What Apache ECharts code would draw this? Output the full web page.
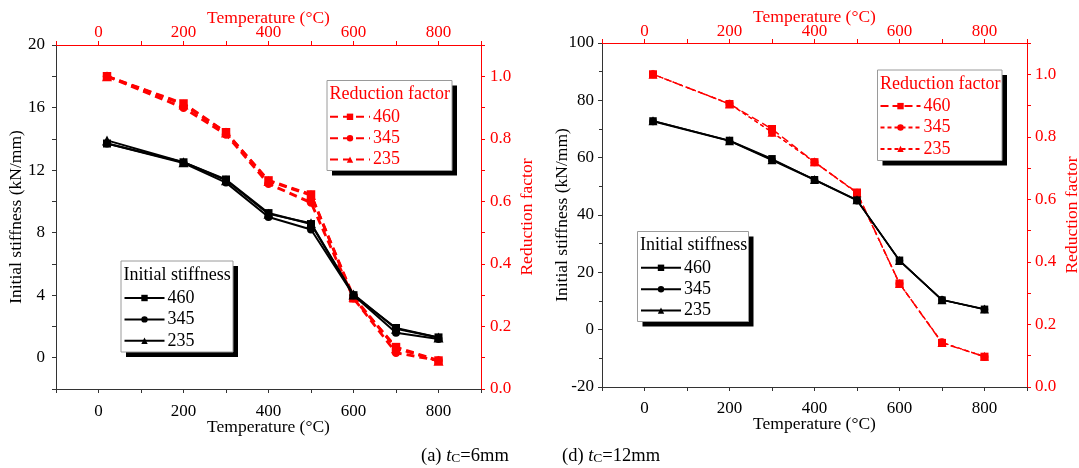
<!DOCTYPE html>
<html>
<head>
<meta charset="utf-8">
<script src="https://cdn.jsdelivr.net/npm/echarts@6/dist/echarts.min.js"></script>
<style>
html,body{margin:0;padding:0;background:#fff;}
#chart{width:1079px;height:468px;}
</style>
</head>
<body>
<div id="chart"></div>
<script>
// ---------- data ----------
const temps = [20, 200, 300, 400, 500, 600, 700, 800];
const grades = ['460', '345', '235'];

// (a) tC = 6 mm
const stiff6_460 = [13.7, 12.5, 11.4, 9.25, 8.55, 4.0, 1.9, 1.3];
const stiff6_345 = [13.7, 12.45, 11.2, 9.0, 8.2, 4.0, 1.6, 1.2];
const stiff6_235 = [13.9, 12.5, 11.35, 9.2, 8.6, 4.05, 1.85, 1.3];
const red6_460 = [1.0, 0.913, 0.821, 0.667, 0.622, 0.29, 0.134, 0.091];
const red6_345 = [1.0, 0.899, 0.814, 0.656, 0.596, 0.29, 0.116, 0.091];
const red6_235 = [1.0, 0.91, 0.82, 0.665, 0.62, 0.295, 0.13, 0.09];

// (d) tC = 12 mm
const stiff12_460 = [72.8, 66.0, 59.6, 52.3, 45.2, 24.2, 10.3, 7.1];
const stiff12_345 = [72.6, 65.8, 59.1, 52.2, 45.0, 24.0, 10.4, 7.0];
const stiff12_235 = [72.9, 65.9, 59.3, 52.4, 45.3, 24.1, 10.4, 7.2];
const red12_460 = [1.0, 0.905, 0.825, 0.719, 0.622, 0.331, 0.141, 0.097];
const red12_345 = [1.0, 0.906, 0.814, 0.719, 0.62, 0.33, 0.143, 0.096];
const red12_235 = [1.0, 0.905, 0.815, 0.72, 0.621, 0.331, 0.142, 0.098];

// tick labels
const tempTicks = [0, 200, 400, 600, 800];
const stiff6Ticks = [0, 4, 8, 12, 16, 20];
const stiff12Ticks = [-20, 0, 20, 40, 60, 80, 100];
const redTicks = ['0.0', '0.2', '0.4', '0.6', '0.8', '1.0'];

// ---------- styling ----------
const FONT = '"Liberation Serif", "Times New Roman", serif';
const RED = '#ff0000';
const BLK = '#000000';
const AX = '#333333';
const TICK_FS = 17, TITLE_FS = 17.5, LEG_FS = 18;

const chart = echarts.init(document.getElementById('chart'), null, {renderer: 'canvas'});

function tempFmt(v) { return tempTicks.indexOf(Math.round(v)) >= 0 ? String(Math.round(v)) : ''; }
function redFmt(v) { const s = v.toFixed(1); return redTicks.indexOf(s) >= 0 && Math.abs(v - parseFloat(s)) < 1e-6 && Math.round(v * 10) % 2 === 0 ? s : ''; }

function xAxes(gi, o) {
  return [
    { // bottom
      gridIndex: gi, type: 'value', position: 'bottom', min: -100, max: 900, interval: 100,
      name: 'Temperature (°C)', nameLocation: 'middle', nameGap: o.bGap, nameMoveOverlap: false,
      nameTextStyle: {fontFamily: FONT, fontSize: TITLE_FS, color: BLK},
      axisLine: {show: true, onZero: false, lineStyle: {color: AX, width: 1}},
      axisTick: {show: true, length: 4, lineStyle: {color: AX}},
      axisLabel: {margin: o.bMargin, fontFamily: FONT, fontSize: TICK_FS, color: BLK, formatter: tempFmt},
      splitLine: {show: false}
    },
    { // top
      gridIndex: gi, type: 'value', position: 'top', min: -100, max: 900, interval: 100,
      name: 'Temperature (°C)', nameLocation: 'middle', nameGap: o.tGap, nameMoveOverlap: false,
      nameTextStyle: {fontFamily: FONT, fontSize: TITLE_FS, color: RED},
      axisLine: {show: true, onZero: false, lineStyle: {color: RED, width: 1}},
      axisTick: {show: true, length: 4, lineStyle: {color: RED}},
      axisLabel: {margin: o.tMargin, fontFamily: FONT, fontSize: TICK_FS, color: RED, formatter: tempFmt},
      splitLine: {show: false}
    }
  ];
}

function yAxes(gi, left, o) {
  return [
    Object.assign({
      gridIndex: gi, type: 'value', position: 'left',
      name: 'Initial stiffness (kN/mm)', nameLocation: 'middle', nameGap: o.lGap, nameMoveOverlap: false,
      nameTextStyle: {fontFamily: FONT, fontSize: TITLE_FS, color: BLK},
      axisLine: {show: true, onZero: false, lineStyle: {color: AX, width: 1}},
      axisTick: {show: true, length: 4, lineStyle: {color: AX}},
      splitLine: {show: false}
    }, left),
    {
      gridIndex: gi, type: 'value', position: 'right', min: 0, max: 1.1, interval: 0.1,
      name: 'Reduction factor', nameLocation: 'middle', nameGap: o.rGap, nameMoveOverlap: false,
      nameTextStyle: {fontFamily: FONT, fontSize: TITLE_FS, color: RED},
      axisLine: {show: true, onZero: false, lineStyle: {color: RED, width: 1}},
      axisTick: {show: true, length: 4, lineStyle: {color: RED}},
      axisLabel: {margin: o.rMargin, fontFamily: FONT, fontSize: TICK_FS, color: RED, formatter: redFmt},
      splitLine: {show: false}
    }
  ];
}

const symbols = ['rect', 'circle', 'triangle'];
function pts(vals) { return temps.map((t, i) => [t, vals[i]]); }
function line(name, vals, xi, yi, color, sym, type, width, size) {
  return {
    name: name, type: 'line', xAxisIndex: xi, yAxisIndex: yi, data: pts(vals),
    symbol: sym, symbolSize: size, showSymbol: true,
    lineStyle: {color: color, width: width, type: type},
    itemStyle: {color: color},
    emphasis: {disabled: true}, animation: false, z: color === RED ? 3 : 4
  };
}

const series = [];
const k6 = [stiff6_460, stiff6_345, stiff6_235];
const r6 = [red6_460, red6_345, red6_235];
const k12 = [stiff12_460, stiff12_345, stiff12_235];
const r12 = [red12_460, red12_345, red12_235];
grades.forEach((g, i) => {
  series.push(line('a-r-' + g, r6[i], 0, 1, RED, symbols[i], [8, 5], 2.8, i === 2 ? 10 : 8.5));
});
grades.forEach((g, i) => {
  series.push(line('a-k-' + g, k6[i], 0, 0, BLK, symbols[i], 'solid', 2, i === 2 ? 10 : 8));
});
const redTypes12 = [[8, 4], [4, 3], [4, 3]];
const redW12 = [1.5, 1.2, 1.2];
grades.forEach((g, i) => {
  series.push(line('d-r-' + g, r12[i], 2, 3, RED, symbols[i], redTypes12[i], redW12[i], i === 2 ? 9 : 8));
});
grades.forEach((g, i) => {
  series.push(line('d-k-' + g, k12[i], 2, 2, BLK, symbols[i], 'solid', 1.5, i === 2 ? 9 : 7.5));
});

function legend(prefix, left, top, color) {
  return {
    data: grades.map(g => prefix + g), orient: 'vertical', left: left, top: top,
    padding: 0, itemWidth: 40, itemHeight: 8, itemGap: 3.4, selectedMode: false, z: 10,
    formatter: n => n.split('-')[2],
    textStyle: {fontFamily: FONT, fontSize: LEG_FS, color: color, padding: [0, 0, 0, -2]}
  };
}

function box(x, y, w, h, title, color) {
  return [
    {type: 'rect', z: 1, shape: {x: x + 5, y: y + 5, width: w, height: h}, style: {fill: '#000'}},
    {type: 'rect', z: 1, shape: {x: x, y: y, width: w, height: h}, style: {fill: '#fff', stroke: '#9a9a9a', lineWidth: 1}},
    {type: 'text', z: 2, x: x + 2.5, y: y + 14, style: {text: title, fontFamily: FONT, fontSize: LEG_FS, fill: color, verticalAlign: 'middle', align: 'left'}}
  ];
}

function caption(x, label, val) {
  return {
    type: 'text', x: x, y: 455, z: 2,
    style: {
      text: '{n|' + label + ' }{i|t}{s|C}{n|=' + val + '}',
      verticalAlign: 'middle', align: 'left',
      rich: {
        n: {fontFamily: FONT, fontSize: 18.5, fill: BLK, color: BLK, lineHeight: 21, verticalAlign: 'bottom'},
        i: {fontFamily: FONT, fontSize: 18.5, fontStyle: 'italic', fill: BLK, color: BLK, lineHeight: 21, verticalAlign: 'bottom'},
        s: {fontFamily: FONT, fontSize: 13.5, fill: BLK, color: BLK, lineHeight: 17, verticalAlign: 'bottom'}
      }
    }
  };
}

const option = {
  backgroundColor: '#fff',
  animation: false,
  grid: [
    {left: 56, top: 45, width: 425, height: 344, outerBoundsMode: 'none', containLabel: false},
    {left: 602, top: 43, width: 425, height: 344, outerBoundsMode: 'none', containLabel: false}
  ],
  xAxis: [].concat(
    xAxes(0, {bGap: 29.5, bMargin: 14.4, tGap: 17.5, tMargin: 4}),
    xAxes(1, {bGap: 28, bMargin: 13, tGap: 16.5, tMargin: 2.5})
  ),
  yAxis: [].concat(
    yAxes(0, {min: -2, max: 20, interval: 2,
      axisLabel: {margin: 11, fontFamily: FONT, fontSize: TICK_FS, color: BLK,
        formatter: v => stiff6Ticks.indexOf(Math.round(v)) >= 0 ? String(Math.round(v)) : ''}},
      {lGap: 31, rGap: 37.5, rMargin: 9}),
    yAxes(1, {min: -20, max: 100, interval: 20,
      minorTick: {show: true, splitNumber: 2, length: 3, lineStyle: {color: AX}},
      axisLabel: {margin: 8, fontFamily: FONT, fontSize: TICK_FS, color: BLK,
        formatter: v => stiff12Ticks.indexOf(Math.round(v)) >= 0 ? String(Math.round(v)) : ''}},
      {lGap: 31, rGap: 36.5, rMargin: 8})
  ),
  legend: [
    legend('a-r-', 329, 107.8, RED),
    legend('d-r-', 879.5, 97.1, RED),
    legend('a-k-', 123.5, 289, BLK),
    legend('d-k-', 640, 258.8, BLK)
  ],
  graphic: [].concat(
    box(327, 80.5, 125, 90, 'Reduction factor', RED),
    box(877.5, 70, 124.5, 90.5, 'Reduction factor', RED),
    box(121, 261, 112, 91, 'Initial stiffness', BLK),
    box(637.5, 231.5, 111, 90, 'Initial stiffness', BLK),
    [caption(421, '(a)', '6mm'), caption(562, '(d)', '12mm')]
  ),
  series: series
};
chart.setOption(option);
</script>
</body>
</html>
